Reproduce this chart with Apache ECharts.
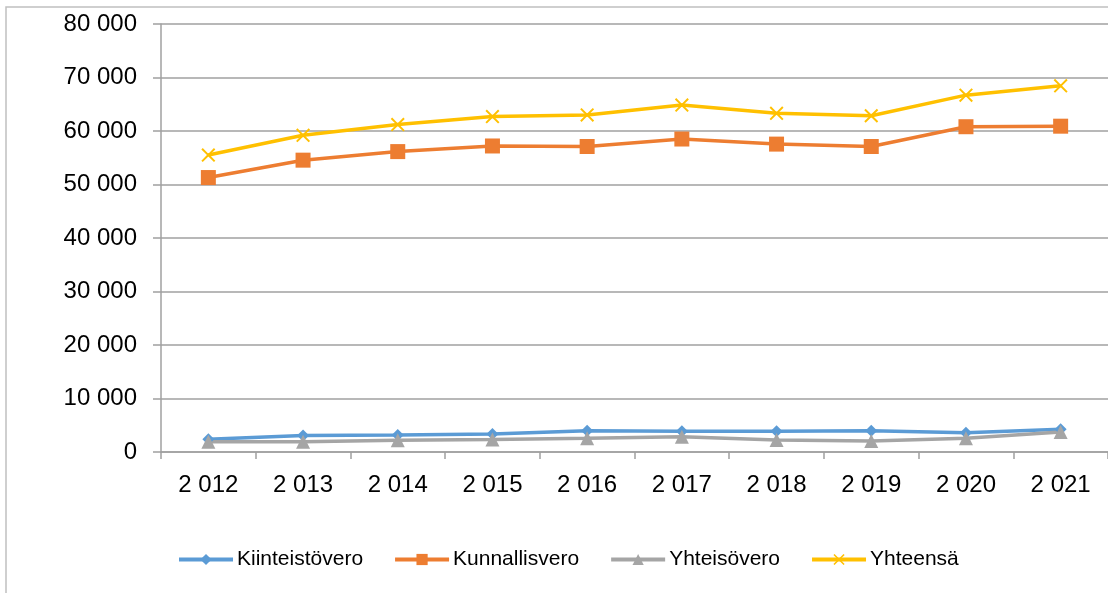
<!DOCTYPE html>
<html>
<head>
<meta charset="utf-8">
<script src="https://cdn.jsdelivr.net/npm/echarts@6/dist/echarts.min.js"></script>
<style>
html,body{margin:0;padding:0;background:#fff;}
#chart{width:1108px;height:593px;}
</style>
</head>
<body>
<div id="chart"></div>
<script>
const categories = ['2 012','2 013','2 014','2 015','2 016','2 017','2 018','2 019','2 020','2 021'];
const kiinteistovero = [2400, 3100, 3200, 3350, 3950, 3900, 3900, 3950, 3600, 4250];
const kunnallisvero = [51300, 54550, 56150, 57200, 57100, 58500, 57550, 57100, 60800, 60900];
const yhteisovero = [1900, 1900, 2200, 2350, 2550, 2850, 2250, 2050, 2550, 3750];
const yhteensa = [55500, 59200, 61200, 62700, 63000, 64850, 63300, 62850, 66700, 68450];
const yTicks = { min: 0, max: 80000, interval: 10000 };

const fmt = v => String(v).replace(/\B(?=(\d{3})+(?!\d))/g, ' ');
const xPath = 'path://M0,1L1,0L5,4L9,0L10,1L6,5L10,9L9,10L5,6L1,10L0,9L4,5Z';
const font = 'Liberation Sans';

const chart = echarts.init(document.getElementById('chart'), null, {renderer:'canvas'});
function mk(name, data, color, symbol, size) {
  return {
    name, type:'line', data, symbol, symbolSize:size, showSymbol:true,
    lineStyle:{color, width:3.5}, itemStyle:{color, borderWidth:0},
    emphasis:{disabled:true}, animation:false
  };
}
chart.setOption({
  animation:false,
  textStyle:{fontFamily:font},
  graphic:[{type:'rect', shape:{x:6, y:7, width:1200, height:700}, style:{fill:'none', stroke:'#c0c0c0', lineWidth:1.5}, silent:true}],
  grid:{left:161, top:24, width:953, height:428},
  legend:{
    bottom:18, left:172, itemWidth:54, itemHeight:14, itemGap:30,
    lineStyle:{width:4},
    textStyle:{fontFamily:font, fontSize:21, color:'#000', padding:[0,0,0,-1]},
    data:['Kiinteistövero','Kunnallisvero','Yhteisövero','Yhteensä']
  },
  xAxis:{
    type:'category', data:categories, boundaryGap:true,
    axisLine:{lineStyle:{color:'#a0a0a0', width:1.5}},
    axisTick:{show:true, length:7, lineStyle:{color:'#a0a0a0', width:1.5}},
    axisLabel:{fontFamily:font, fontSize:24, color:'#000', margin:21}
  },
  yAxis:{
    type:'value', min:yTicks.min, max:yTicks.max, interval:yTicks.interval,
    axisLine:{show:true, lineStyle:{color:'#a0a0a0', width:1.5}},
    axisTick:{show:true, length:8, lineStyle:{color:'#a0a0a0', width:1.5}},
    axisLabel:{fontFamily:font, fontSize:24, color:'#000', margin:24, formatter:fmt},
    splitLine:{lineStyle:{color:'#a0a0a0', width:1.5}}
  },
  series:[
    mk('Kiinteistövero', kiinteistovero, '#5B9BD5', 'diamond', 12),
    mk('Kunnallisvero', kunnallisvero, '#ED7D31', 'rect', 15),
    mk('Yhteisövero', yhteisovero, '#A5A5A5', 'triangle', 14),
    mk('Yhteensä', yhteensa, '#FFC000', xPath, 14)
  ]
});
</script>
</body>
</html>
